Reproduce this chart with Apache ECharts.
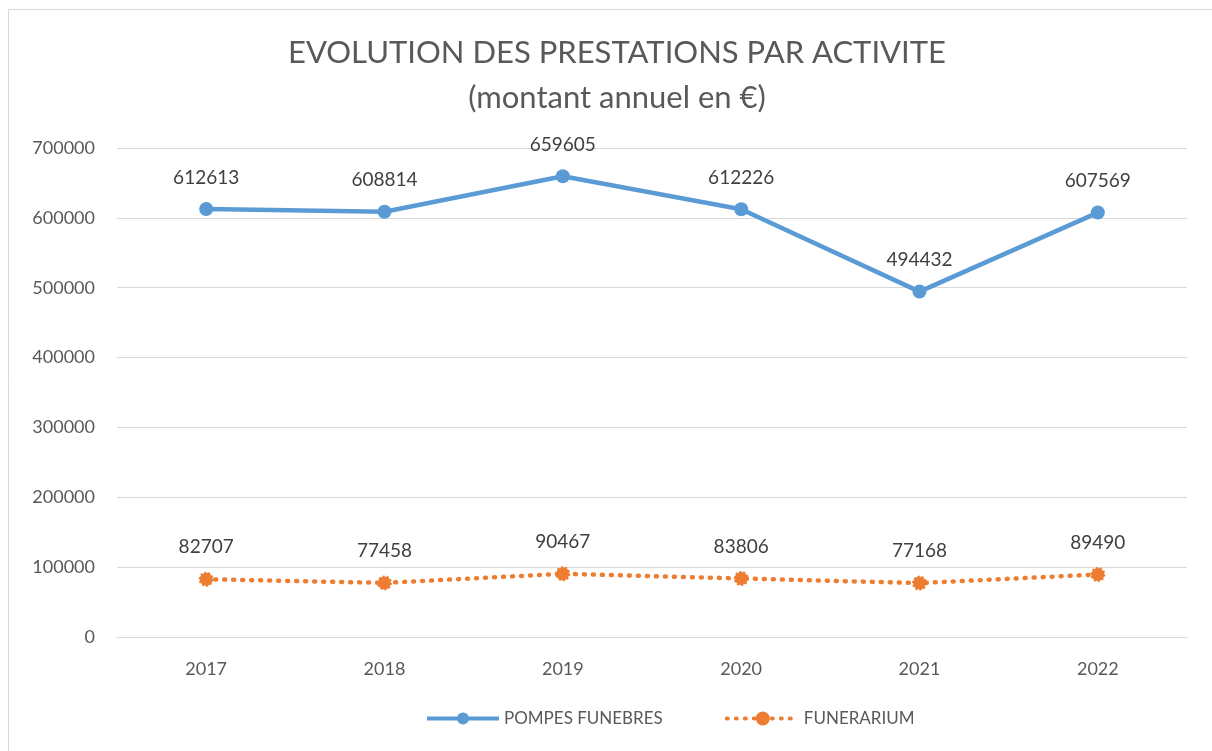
<!DOCTYPE html>
<html><head><meta charset="utf-8">
<script src="https://cdn.jsdelivr.net/npm/echarts@6/dist/echarts.min.js"></script>
<style>html,body{margin:0;padding:0;background:#fff}#c{width:1212px;height:751px}</style>
</head><body><div id="c"></div>
<script>
const categories = ['2017','2018','2019','2020','2021','2022'];
const pompesFunebres = [612613, 608814, 659605, 612226, 494432, 607569];
const funerarium = [82707, 77458, 90467, 83806, 77168, 89490];
const yTicks = [0,100000,200000,300000,400000,500000,600000,700000];
const FONT = 'Lato, "Open Sans", sans-serif';
const chart = echarts.init(document.getElementById('c'));
chart.setOption({
  animation:false,
  backgroundColor:'#fff',
  graphic:[{type:'rect',shape:{x:8.5,y:9.5,width:1300,height:800},style:{fill:'none',stroke:'#d9d9d9',lineWidth:1},silent:true}],
  title:{text:'EVOLUTION DES PRESTATIONS PAR ACTIVITE\n(montant annuel en €)',left:612,top:25,textAlign:'center',
    textStyle:{fontFamily:FONT,fontSize:31,fontWeight:'normal',color:'#595959',lineHeight:45}},
  grid:{left:117,right:25,top:148,bottom:114,containLabel:false},
  legend:{bottom:19,left:420,itemWidth:72,itemHeight:15,itemGap:62,
    lineStyle:{width:4},
    textStyle:{fontFamily:FONT,fontSize:17,color:'#595959'},
    data:[{name:'POMPES FUNEBRES'},{name:'FUNERARIUM'}]},
  xAxis:{type:'category',data:categories,boundaryGap:true,
    axisLine:{lineStyle:{color:'#d9d9d9',width:1}},axisTick:{show:false},
    axisLabel:{fontFamily:FONT,fontSize:18,color:'#595959',margin:23}},
  yAxis:{type:'value',min:yTicks[0],max:yTicks[yTicks.length-1],interval:100000,
    axisLine:{show:false},axisTick:{show:false},
    splitLine:{lineStyle:{color:'#d9d9d9',width:1}},
    axisLabel:{fontFamily:FONT,fontSize:18,color:'#595959',margin:22,formatter:v=>String(v)}},
  series:[
    {name:'POMPES FUNEBRES',type:'line',data:pompesFunebres,symbol:'circle',symbolSize:14,
      lineStyle:{color:'#5B9BD5',width:4.5},itemStyle:{color:'#5B9BD5'},
      label:{show:true,position:'top',distance:15,fontFamily:FONT,fontSize:19,color:'#404040'}},
    {name:'FUNERARIUM',type:'line',data:funerarium,symbol:'circle',symbolSize:13,
      lineStyle:{color:'#ED7D31',width:4.5,type:[1,8],cap:'round'},itemStyle:{color:'#ED7D31',borderColor:'#ED7D31',borderWidth:2,borderType:'dotted'},
      label:{show:true,position:'top',distance:15,fontFamily:FONT,fontSize:19,color:'#404040'}}
  ]
});
</script></body></html>
